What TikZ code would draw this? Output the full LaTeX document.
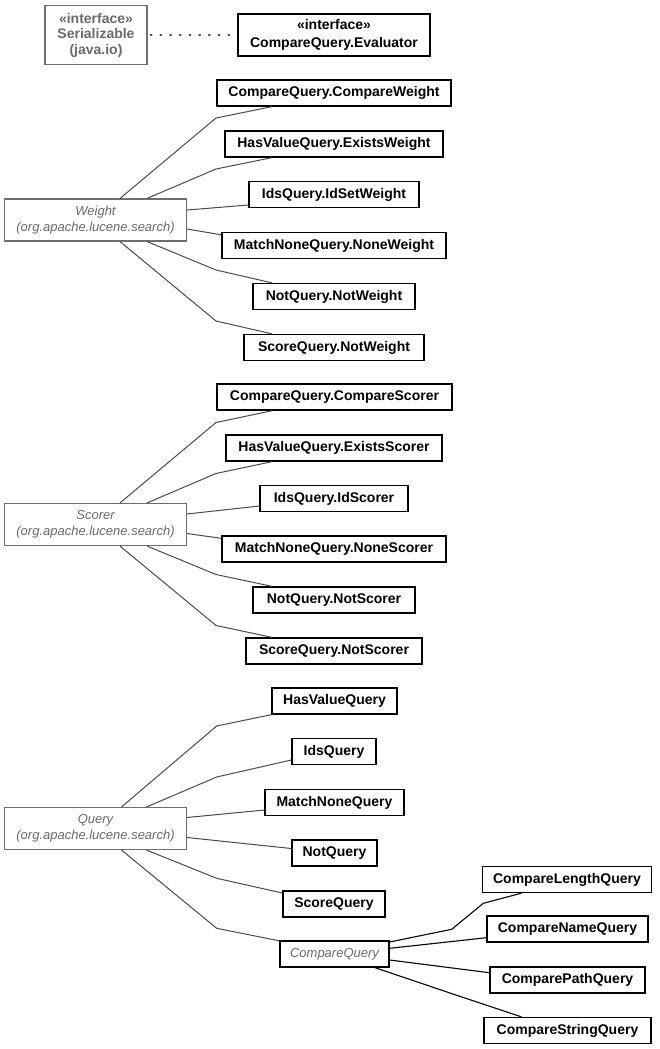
\documentclass[tikz,border=0pt]{standalone}
\usepackage{fontspec}
\setmainfont{Liberation Sans}
\usetikzlibrary{calc}
\definecolor{gline}{HTML}{4A4A4A}
\definecolor{gborder}{HTML}{6E6E6E}
\definecolor{gtext}{HTML}{6A6A6A}
\tikzset{
  cls/.style={draw=black, line width=1.3pt, fill=white, text=black,
    font=\fontsize{14}{16}\selectfont\bfseries, minimum height=26pt,
    minimum width=#1, inner sep=0pt, align=center},
  cls/.default=100pt,
  ext/.style={draw=gborder, line width=1.1pt, fill=white, text=gtext,
    font=\fontsize{13}{15.5}\selectfont\itshape, minimum height=42pt,
    minimum width=#1, inner sep=0pt, align=center},
  ext/.default=182pt,
  gedge/.style={draw=gline, line width=1pt},
  bedge/.style={draw=black, line width=1.1pt},
}
\begin{document}
\begin{tikzpicture}[x=1pt,y=-1pt]
\useasboundingbox (0,0) rectangle (659,1049);

% top interfaces
\node[draw=gborder, line width=1.1pt, text=gtext, font=\fontsize{14}{15.5}\selectfont\bfseries,
  minimum width=102pt, minimum height=59pt, inner sep=0pt, align=center]
  (ser) at (96,35) {«interface»\\Serializable\\(java.io)};
\node[cls=192pt, minimum height=42pt, font=\fontsize{14}{17.5}\selectfont\bfseries]
  (ev) at (334,35) {«interface»\\CompareQuery.Evaluator};
\draw[draw=gline, line width=1.6pt, dash pattern=on 1.2pt off 8.5pt, line cap=round]
  (ser.east) ++(3pt,0) -- (ev.west);

% Weight
\node[ext] (w) at (95.5,220) {Weight\\(org.apache.lucene.search)};
\node[cls=234pt] (cw) at (334,93) {CompareQuery.CompareWeight};
\node[cls=218pt] (ew) at (334,144) {HasValueQuery.ExistsWeight};
\node[cls=170pt] (iw) at (334,194.5) {IdsQuery.IdSetWeight};
\node[cls=224pt] (nw) at (334,245.5) {MatchNoneQuery.NoneWeight};
\node[cls=162pt] (tw) at (334,296.5) {NotQuery.NotWeight};
\node[cls=180pt] (sw) at (334,347.5) {ScoreQuery.NotWeight};
\coordinate (wb1) at (216,118);
\coordinate (wb2) at (216,169);
\coordinate (wb5) at (216,270);
\coordinate (wb6) at (216,321);
\draw[gedge] ([xshift=24.5pt]w.north) -- (wb1) -- ([xshift=-62pt]cw.south);
\draw[gedge] ([xshift=51.5pt]w.north) -- (wb2) -- ([xshift=-62pt]ew.south);
\draw[gedge] ([yshift=10pt]w.east) -- ([yshift=-10.5pt]iw.west);
\draw[gedge] ([yshift=-9pt]w.east) -- ([yshift=-3pt]nw.north west);
\draw[gedge] ([xshift=51.5pt]w.south) -- (wb5) -- ([xshift=-62pt]tw.north);
\draw[gedge] ([xshift=24.5pt]w.south) -- (wb6) -- ([xshift=-62pt]sw.north);

% Scorer
\node[ext] (s) at (95.5,524.5) {Scorer\\(org.apache.lucene.search)};
\node[cls=235pt] (cs) at (334.5,397) {CompareQuery.CompareScorer};
\node[cls=216pt] (es) at (334,448) {HasValueQuery.ExistsScorer};
\node[cls=148pt] (is) at (334,498.5) {IdsQuery.IdScorer};
\node[cls=224pt] (ns) at (334,549) {MatchNoneQuery.NoneScorer};
\node[cls=162pt] (ts) at (334,600) {NotQuery.NotScorer};
\node[cls=176pt] (ss) at (334,651) {ScoreQuery.NotScorer};
\coordinate (sb1) at (216,422.5);
\coordinate (sb2) at (216,473.5);
\coordinate (sb5) at (216,574.5);
\coordinate (sb6) at (216,625.5);
\draw[gedge] ([xshift=24.5pt]s.north) -- (sb1) -- ([xshift=-62pt]cs.south);
\draw[gedge] ([xshift=51.5pt]s.north) -- (sb2) -- ([xshift=-62pt]es.south);
\draw[gedge] ([yshift=10.5pt]s.east) -- ([yshift=-7.5pt]is.west);
\draw[gedge] ([yshift=-9pt]s.east) -- ([yshift=-3pt]ns.north west);
\draw[gedge] ([xshift=51.5pt]s.south) -- (sb5) -- ([xshift=-62pt]ts.north);
\draw[gedge] ([xshift=24.5pt]s.south) -- (sb6) -- ([xshift=-62pt]ss.north);

% Query
\node[ext] (q) at (95.5,828.5) {Query\\(org.apache.lucene.search)};
\node[cls=125pt] (hv) at (334.5,701) {HasValueQuery};
\node[cls=84pt] (iq) at (334,751.5) {IdsQuery};
\node[cls=139pt] (mn) at (334.5,802.5) {MatchNoneQuery};
\node[cls=85pt] (nq) at (334.5,853) {NotQuery};
\node[cls=102pt] (sq) at (334,904) {ScoreQuery};
\node[cls=109pt, font=\fontsize{13}{15}\selectfont\itshape, text=gtext] (cq) at (334.5,954) {CompareQuery};
\coordinate (qb1) at (216.7,726);
\coordinate (qb2) at (216.7,777);
\coordinate (qb5) at (216.7,878.3);
\coordinate (qb6) at (216.7,928.3);
\draw[gedge] ([xshift=26pt]q.north) -- (qb1) -- (hv.south west);
\draw[gedge] ([xshift=51pt]q.north) -- (qb2) -- ([yshift=-8.5pt]iq.west);
\draw[gedge] ([yshift=11pt]q.east) -- ([yshift=-7.5pt]mn.west);
\draw[gedge] ([yshift=-9pt]q.east) -- ([yshift=4.5pt]nq.west);
\draw[gedge] ([xshift=51pt]q.south) -- (qb5) -- ([yshift=11pt]sq.west);
\draw[gedge] ([xshift=26pt]q.south) -- (qb6) -- ([yshift=-0.5pt]cq.north west);

% CompareQuery subclasses
\node[cls=169pt] (cl) at (567,879.5) {CompareLengthQuery};
\node[cls=161pt] (cn) at (567.5,929) {CompareNameQuery};
\node[cls=155pt] (cp) at (567.5,980) {ComparePathQuery};
\node[cls=167pt] (csq) at (567.5,1030.5) {CompareStringQuery};
\coordinate (cb1) at (451.7,929.3);
\coordinate (cb2) at (483.3,903.3);
\coordinate (cb4) at (450,993);
\draw[bedge] ([yshift=12pt]cq.east) -- (cb1) -- (cb2) -- ([xshift=-45.5pt]cl.south);
\draw[bedge] ([yshift=5.7pt]cq.east) -- ([yshift=-8.7pt]cn.west);
\draw[bedge] ([yshift=-6pt]cq.east) -- ([yshift=7.3pt]cp.west);
\draw[bedge] ([xshift=40.5pt]cq.south) -- (cb4) -- ([xshift=-46pt]csq.north);
\end{tikzpicture}
\end{document}
